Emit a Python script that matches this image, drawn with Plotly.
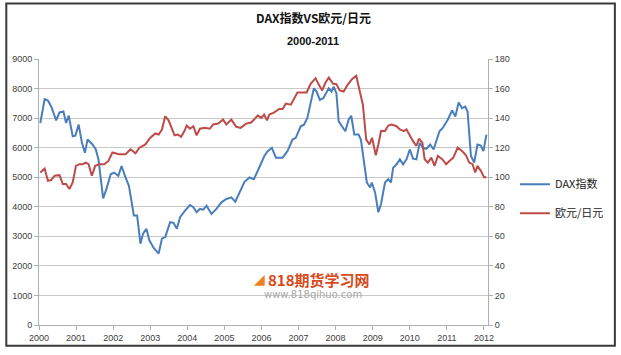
import plotly.graph_objects as go

# ---- data ----
dax_x = [2000.035, 2000.152, 2000.241, 2000.329, 2000.463, 2000.553, 2000.660, 2000.730, 2000.802, 2000.909,
         2000.981, 2001.070, 2001.158, 2001.238, 2001.310, 2001.444, 2001.532, 2001.604, 2001.730, 2001.818,
         2001.933, 2002.024, 2002.139, 2002.227, 2002.318, 2002.425, 2002.559, 2002.647, 2002.735, 2002.807,
         2002.896, 2002.976, 2003.094, 2003.227, 2003.316, 2003.404, 2003.537, 2003.628, 2003.717, 2003.805,
         2003.939, 2004.072, 2004.163, 2004.251, 2004.340, 2004.430, 2004.519, 2004.652, 2004.786, 2004.920,
         2005.053, 2005.187, 2005.294, 2005.409, 2005.543, 2005.676, 2005.794, 2005.920, 2006.035, 2006.078,
         2006.168, 2006.211, 2006.280, 2006.390, 2006.570, 2006.703, 2006.837, 2006.925, 2007.059, 2007.147,
         2007.238, 2007.326, 2007.414, 2007.487, 2007.575, 2007.666, 2007.816, 2007.888, 2007.949, 2008.021,
         2008.083, 2008.201, 2008.262, 2008.350, 2008.422, 2008.503, 2008.618, 2008.682, 2008.770, 2008.842,
         2008.930, 2008.976, 2009.064, 2009.152, 2009.225, 2009.332, 2009.420, 2009.492, 2009.553, 2009.644,
         2009.733, 2009.821, 2009.912, 2010.000, 2010.088, 2010.179, 2010.267, 2010.356, 2010.447, 2010.553,
         2010.642, 2010.802, 2010.890, 2011.024, 2011.142, 2011.230, 2011.318, 2011.409, 2011.497, 2011.559,
         2011.650, 2011.738, 2011.826, 2011.917, 2011.987, 2012.067]
dax_y = [6836, 7641, 7594, 7393, 6923, 7191, 7225, 6836, 7081, 6386,
         6409, 6779, 6164, 5829, 6275, 6107, 5940, 5604, 4285, 4597,
         5101, 5157, 5045, 5380, 5045, 4709, 3702, 3702, 2752, 3087,
         3255, 2864, 2607, 2416, 2919, 2976, 3479, 3456, 3255, 3647,
         3870, 4060, 3983, 3815, 3926, 3903, 4037, 3758, 3926, 4151,
         4262, 4318, 4171, 4486, 4843, 4990, 4933, 5270, 5604, 5716,
         5883, 5940, 5996, 5660, 5660, 5883, 6275, 6331, 6722, 6779,
         7003, 7506, 8010, 7897, 7617, 7674, 8010, 7897, 8064, 7842,
         6890, 6667, 6555, 6946, 7081, 6443, 6443, 6275, 5380, 4822,
         4654, 4822, 4486, 3815, 4094, 4822, 4933, 4822, 5325, 5436,
         5604, 5436, 5604, 5940, 5627, 5604, 6164, 5996, 5962, 6107,
         5940, 6555, 6667, 6946, 7259, 7058, 7528, 7338, 7393, 7225,
         5716, 5492, 6107, 6074, 5883, 6443]

eur_x = [2000.035, 2000.152, 2000.241, 2000.329, 2000.420, 2000.553, 2000.642, 2000.730, 2000.821, 2000.909,
         2000.997, 2001.088, 2001.176, 2001.265, 2001.337, 2001.425, 2001.516, 2001.623, 2001.757, 2001.872,
         2001.979, 2002.158, 2002.334, 2002.468, 2002.602, 2002.709, 2002.869, 2003.003, 2003.136, 2003.227,
         2003.316, 2003.404, 2003.495, 2003.564, 2003.655, 2003.743, 2003.832, 2003.922, 2003.984, 2004.072,
         2004.163, 2004.251, 2004.340, 2004.473, 2004.607, 2004.698, 2004.832, 2004.965, 2005.053, 2005.187,
         2005.321, 2005.436, 2005.588, 2005.722, 2005.829, 2005.900, 2006.000, 2006.070, 2006.150, 2006.211,
         2006.345, 2006.479, 2006.570, 2006.658, 2006.791, 2006.880, 2006.971, 2007.104, 2007.219, 2007.326,
         2007.460, 2007.548, 2007.639, 2007.727, 2007.816, 2007.933, 2008.021, 2008.110, 2008.217, 2008.324,
         2008.441, 2008.556, 2008.644, 2008.735, 2008.824, 2008.912, 2008.984, 2009.083, 2009.152, 2009.225,
         2009.332, 2009.420, 2009.511, 2009.644, 2009.733, 2009.840, 2009.912, 2009.981, 2010.088, 2010.179,
         2010.249, 2010.340, 2010.401, 2010.489, 2010.580, 2010.668, 2010.757, 2010.874, 2010.981, 2011.070,
         2011.176, 2011.291, 2011.409, 2011.516, 2011.604, 2011.693, 2011.765, 2011.826, 2011.917, 2012.005,
         2012.067]
eur_y = [103.2, 105.9, 97.6, 98.1, 101.0, 101.4, 95.4, 95.4, 92.0, 96.5,
         107.7, 108.8, 108.8, 109.9, 108.8, 101.0, 107.7, 108.8, 108.8, 111.0,
         116.7, 115.5, 115.5, 118.9, 116.2, 120.0, 122.2, 126.7, 129.6, 128.9,
         132.3, 141.2, 138.5, 134.5, 128.3, 128.9, 127.4, 131.2, 135.0, 132.8,
         134.5, 128.3, 132.8, 133.4, 132.8, 135.7, 136.3, 139.0, 135.7, 139.0,
         134.1, 133.4, 136.3, 137.0, 140.2, 141.7, 140.2, 142.4, 138.5, 142.4,
         143.9, 146.2, 146.2, 149.8, 149.1, 152.9, 157.4, 157.4, 157.4, 163.2,
         167.0, 162.5, 158.7, 164.1, 167.4, 163.2, 163.0, 158.7, 158.0, 162.5,
         166.4, 168.6, 159.2, 149.1, 125.6, 122.2, 126.7, 114.8, 122.2, 131.2,
         131.2, 135.0, 135.7, 134.5, 132.3, 131.2, 132.3, 128.9, 124.4, 121.1,
         126.1, 123.4, 112.2, 109.9, 113.3, 107.7, 114.4, 112.2, 108.8, 111.0,
         113.3, 120.0, 117.7, 114.8, 109.9, 108.8, 103.2, 107.7, 104.3, 99.9,
         99.9]

years = list(range(2000, 2013))
year_labels = [str(y) for y in years]
left_ticks = list(range(0, 9001, 1000))
right_ticks = list(range(0, 181, 20))

BLUE = "#4A7EBB"
RED = "#BE4B48"
AXIS = "#B0B0B0"
TXT = "#404040"
CJK = "Noto Sans CJK SC"


def px(x):
    return (x - 36) / 453


def py(y):
    return (327 - y) / 268


fig = go.Figure()
fig.add_trace(go.Scatter(x=dax_x, y=dax_y, mode="lines", name="DAX指数",
                         line=dict(color=BLUE, width=2), legendgroup="a", yaxis="y"))
fig.add_trace(go.Scatter(x=eur_x, y=eur_y, mode="lines", name="欧元/日元",
                         line=dict(color=RED, width=2), legendgroup="b", yaxis="y2"))

fig.update_layout(
    width=621, height=355,
    margin=dict(l=36, r=132, t=59, b=28),
    paper_bgcolor="white", plot_bgcolor="white",
    font=dict(family="Liberation Sans, " + CJK, size=9, color=TXT),
    showlegend=True,
    legend=dict(x=1.06, y=0.475, xanchor="left", yanchor="middle",
                font=dict(family=CJK, size=11, color="#222222"),
                tracegroupgap=10, itemwidth=30, bgcolor="rgba(0,0,0,0)"),
    xaxis=dict(range=[2000, 2012.11], tickvals=years, ticktext=year_labels,
               showgrid=False, zeroline=False, showline=True, linecolor=AXIS,
               ticks="outside", ticklen=4, tickcolor=AXIS, tickfont=dict(size=9, color=TXT)),
    yaxis=dict(range=[0, 9000], tickvals=left_ticks, showgrid=True, gridcolor="#C8C8C8",
               gridwidth=1, zeroline=False, showline=True, linecolor=AXIS,
               ticks="outside", ticklen=4, tickcolor=AXIS, tickfont=dict(size=9, color=TXT)),
    yaxis2=dict(range=[0, 180], tickvals=right_ticks, overlaying="y", side="right",
                showgrid=False, zeroline=False, showline=True, linecolor=AXIS,
                ticks="outside", ticklen=4, tickcolor=AXIS, tickfont=dict(size=9, color=TXT)),
)

# titles
fig.add_annotation(text="<b>DAX指数VS欧元/日元</b>", xref="paper", yref="paper",
                   x=px(313), y=py(17), xanchor="center", yanchor="middle", showarrow=False,
                   font=dict(family=CJK, size=12, color="#111111"))
fig.add_annotation(text="<b>2000-2011</b>", xref="paper", yref="paper",
                   x=px(312), y=py(41), xanchor="center", yanchor="middle", showarrow=False,
                   font=dict(family="Liberation Sans", size=11, color="#111111"))

# watermark
fig.add_annotation(text="<b>818期货学习网</b>", xref="paper", yref="paper",
                   x=px(318), y=py(281), xanchor="center", yanchor="middle", showarrow=False,
                   font=dict(family=CJK, size=15, color="#D84A1B"))
fig.add_annotation(text="◢", xref="paper", yref="paper",
                   x=px(258), y=py(281), xanchor="center", yanchor="middle", showarrow=False,
                   font=dict(family="DejaVu Sans", size=14, color="#F07F1E"))
fig.add_annotation(text="www.818qihuo.com", xref="paper", yref="paper",
                   x=px(312), y=py(296), xanchor="center", yanchor="middle", showarrow=False,
                   font=dict(family="DejaVu Sans", size=10, color="#A8A8A8"))

# outer frame
fig.add_shape(type="rect", xref="paper", yref="paper",
              x0=px(3), x1=px(617), y0=py(348), y1=py(3),
              line=dict(color="#3A3A3A", width=2))

fig.write_html("out.html", config={"displayModeBar": False},
               post_script="document.body.style.margin='0';")
